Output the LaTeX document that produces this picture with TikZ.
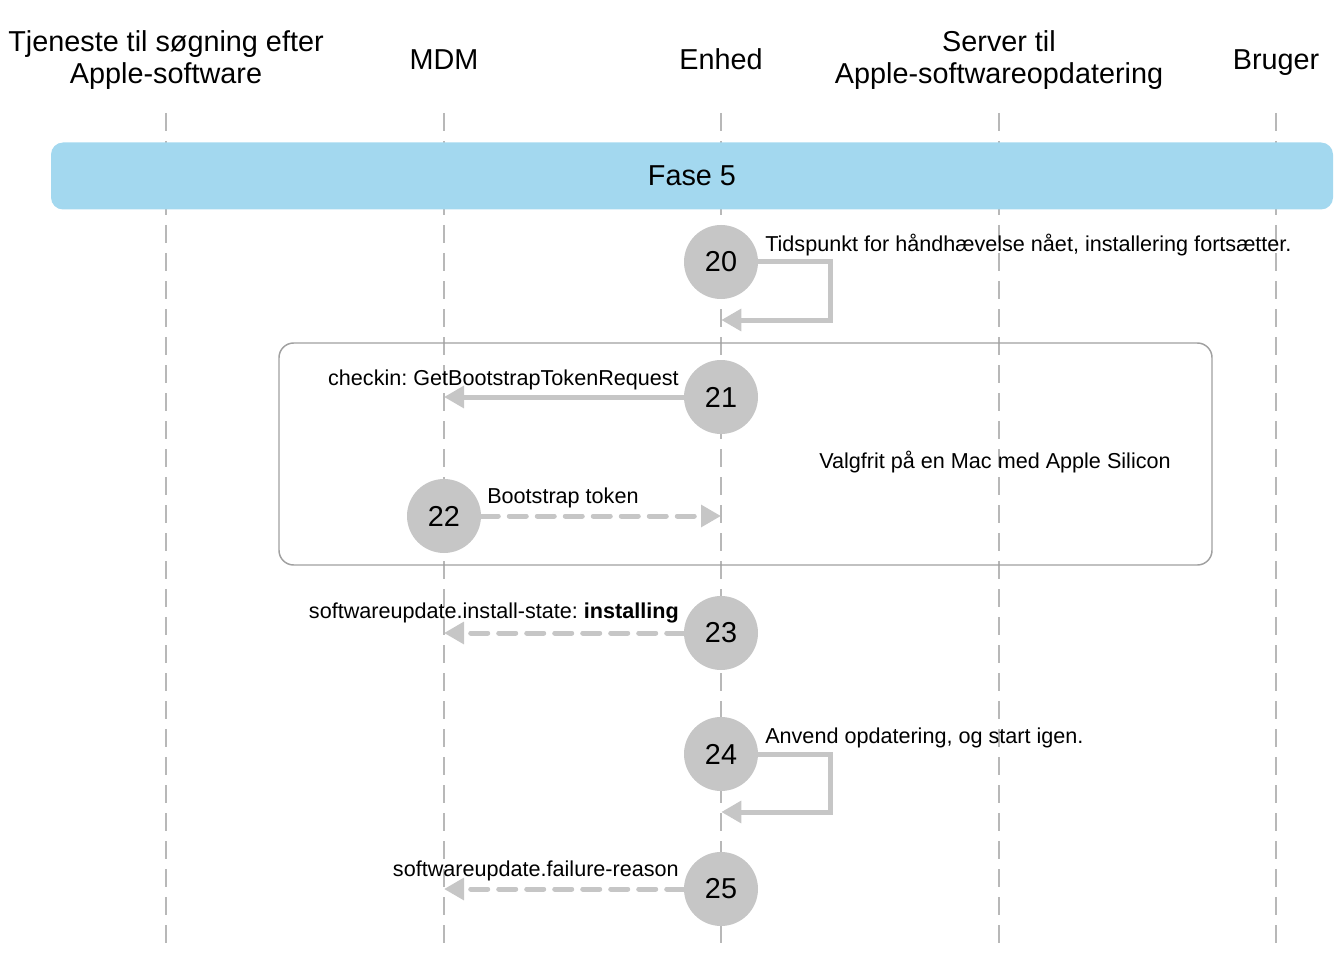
\documentclass[tikz,border=0pt]{standalone}
\usepackage{fontspec}
\setmainfont{Liberation Sans}
\frenchspacing
\usetikzlibrary{arrows.meta,positioning}
\definecolor{fasebla}{HTML}{A3D8EF}
\definecolor{trin}{HTML}{C6C6C6}
\definecolor{livslinje}{HTML}{B8B8B8}
\definecolor{boksgra}{HTML}{A0A0A0}
\tikzset{
  hoved/.style={font=\fontsize{21.6}{24.5}\selectfont, align=center, inner sep=0pt},
  etiket/.style={font=\fontsize{16.2}{19}\selectfont, inner sep=0pt},
  trinnr/.style={circle, fill=trin, minimum size=55.5pt, inner sep=0pt, font=\fontsize{21.6}{24}\selectfont},
  besked/.style={draw=trin, line width=3.75pt, -{Triangle[length=15pt,width=16pt]}},
  svar/.style={besked, dash pattern=on 12.75pt off 8.25pt, line cap=round},
  livslinje/.style={draw=livslinje, line width=1pt, dash pattern=on 13.5pt off 7.5pt}
}
\begin{document}
\begin{tikzpicture}[x=0.75pt,y=-0.75pt]
  \useasboundingbox (0,0) rectangle (1343,963);

  % Deltagere
  \node[hoved, anchor=base] (tjeneste) at (166,84) {Tjeneste til søgning efter\\Apple-software};
  \node[hoved, anchor=base] (mdm) at (444,70) {MDM};
  \node[hoved, anchor=base] (enhed) at (721,70) {Enhed};
  \node[hoved, anchor=base] (server) at (999,84) {Server til\\Apple-softwareopdatering};
  \node[hoved, anchor=base] (bruger) at (1276,70) {Bruger};

  % Livslinjer
  \coordinate (top) at (0,113);
  \coordinate (bund) at (0,948);
  \foreach \n in {tjeneste,mdm,enhed,server,bruger}
    \draw[livslinje] (\n.base |- top) -- (\n.base |- bund);

  % Fase
  \node[fill=fasebla, rounded corners=9pt, minimum width=961.5pt, minimum height=50.25pt,
        font=\fontsize{21.6}{24}\selectfont] (fase) at (692,176) {Fase 5};

  % Valgfri boks
  \draw[boksgra, line width=1.1pt, rounded corners=11pt] (279,343) rectangle (1212,565);
  \node[etiket, anchor=base] (valgfrit) at (995,468) {Valgfrit på en Mac med Apple Silicon};

  % Trin
  \node[trinnr] (t20) at (721,262) {20};
  \node[trinnr] (t21) at (721,397) {21};
  \node[trinnr] (t22) at (444,516) {22};
  \node[trinnr] (t23) at (721,633) {23};
  \node[trinnr] (t24) at (721,754) {24};
  \node[trinnr] (t25) at (721,889) {25};

  % Beskeder
  \draw[besked] (t20.east) -| ++(72,58) -- ++(-109,0);
  \draw[besked] (t21) -- (t21 -| mdm);
  \draw[svar] (t22) -- (t22 -| enhed);
  \draw[svar] (t23) -- (t23 -| mdm);
  \draw[besked] (t24.east) -| ++(72,58) -- ++(-109,0);
  \draw[svar] (t25) -- (t25 -| mdm);

  % Etiketter
  \node[etiket, anchor=base west] (l20) at (765,252) {Tidspunkt for håndhævelse nået, installering fortsætter.};
  \node[etiket, anchor=base east] (l21) at (679,385) {checkin: GetBootstrapTokenRequest};
  \node[etiket, anchor=base west] (l22) at (487,503) {Bootstrap token};
  \node[etiket, anchor=base east] (l23) at (679,618) {softwareupdate.install-state: \textbf{installing}};
  \node[etiket, anchor=base west] (l24) at (765,743) {Anvend opdatering, og start igen.};
  \node[etiket, anchor=base east] (l25) at (679,876) {softwareupdate.failure-reason};
\end{tikzpicture}
\end{document}
